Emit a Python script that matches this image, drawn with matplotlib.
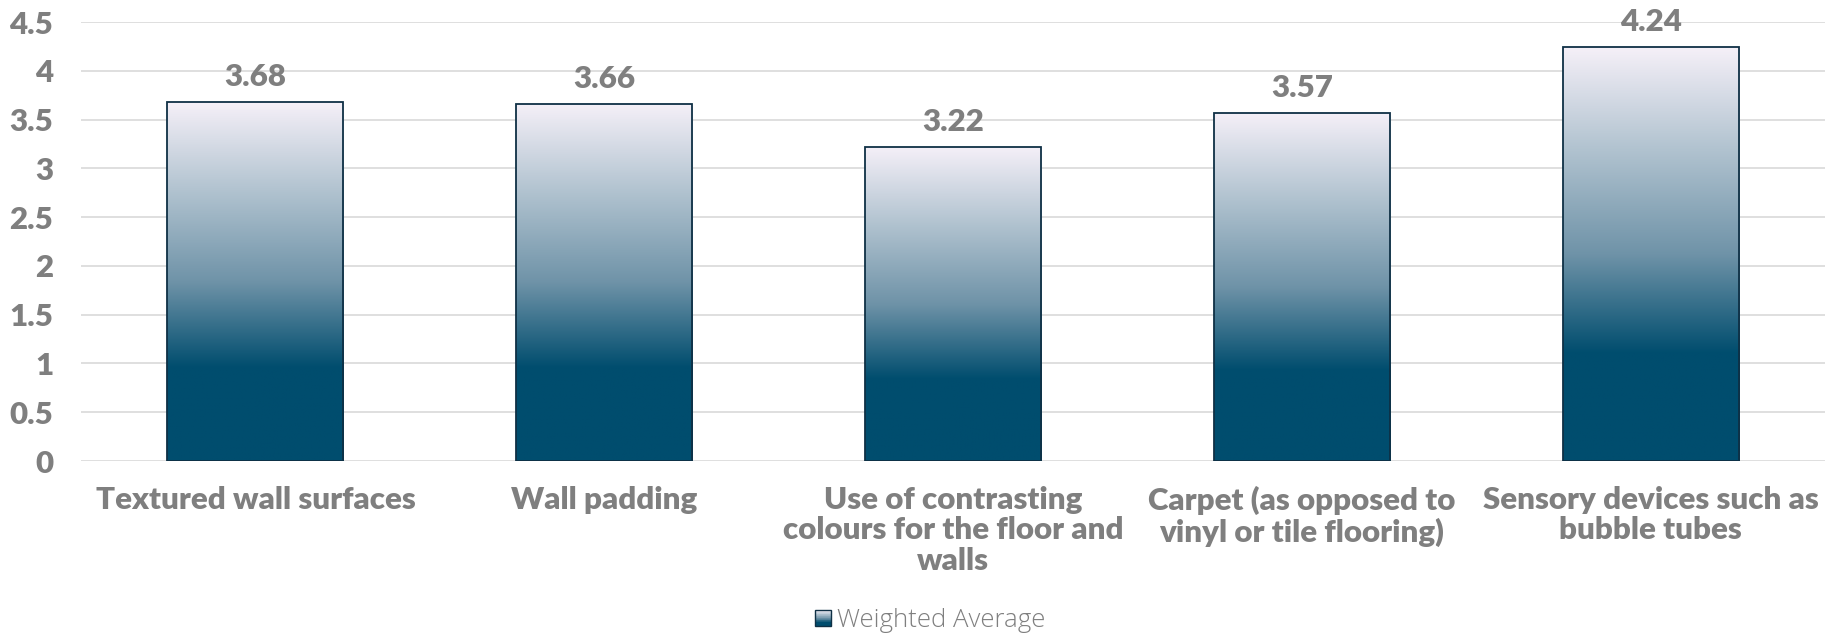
import numpy as np
import matplotlib
matplotlib.use("Agg")
import matplotlib.pyplot as plt
from matplotlib.colors import LinearSegmentedColormap
from matplotlib.patches import Rectangle
from matplotlib.legend_handler import HandlerBase

categories = [
    "Textured wall surfaces",
    "Wall padding",
    "Use of contrasting\ncolours for the floor and\nwalls",
    "Carpet (as opposed to\nvinyl or tile flooring)",
    "Sensory devices such as\nbubble tubes",
]
values = [3.68, 3.66, 3.22, 3.57, 4.24]
series_name = "Weighted Average"
y_ticks = [0, 0.5, 1, 1.5, 2, 2.5, 3, 3.5, 4, 4.5]

GRAY = "#7f7f7f"
EDGE = "#0f3045"
grad = LinearSegmentedColormap.from_list(
    "bar_grad",
    [(0.0, "#004d6e"), (0.26, "#004d6e"), (0.5, "#6f93a8"),
     (0.75, "#b0c2cf"), (1.0, "#f5f0f8")],
)

BOLD = dict(family=["Lato", "DejaVu Sans"], weight="heavy")
FS = 22.5

fig = plt.figure(figsize=(18.25, 6.33), dpi=100)
ax = fig.add_axes([0.0444, 0.2717, 0.9556, 0.6935])

x = np.arange(len(categories))
width = 0.505
bars = ax.bar(x, values, width=width, facecolor="none", edgecolor=EDGE,
              linewidth=1.3, zorder=3)

# vertical gradient fill for each bar, clipped to the bar outline
ramp = np.linspace(0, 1, 256).reshape(-1, 1)
for rect in bars:
    x0, w, h = rect.get_x(), rect.get_width(), rect.get_height()
    im = ax.imshow(ramp, cmap=grad, origin="lower", aspect="auto",
                   extent=(x0, x0 + w, 0, h), zorder=2, interpolation="bilinear")
    im.set_clip_path(rect)

for xi, v in zip(x, values):
    ax.annotate(f"{v:.2f}", (xi, v), xytext=(0, 18), textcoords="offset points",
                ha="center", va="center", color=GRAY, fontsize=FS, **BOLD)

ax.set_xlim(-0.5, len(categories) - 0.5)
ax.set_ylim(0, 4.5)
ax.set_yticks(y_ticks)
ax.set_yticklabels([f"{t:g}" for t in y_ticks])
ax.set_xticks(x)
ax.set_xticklabels(categories, linespacing=1.1)
for lbl in ax.get_xticklabels() + ax.get_yticklabels():
    lbl.set_color(GRAY)
    lbl.set_fontsize(FS)
    lbl.set_fontfamily(["Lato", "DejaVu Sans"])
    lbl.set_fontweight("heavy")
ax.tick_params(axis="y", length=0, pad=20)
ax.tick_params(axis="x", length=0, pad=18)
ax.grid(axis="y", color="#d9d9d9", linewidth=1.2, zorder=0)
ax.set_axisbelow(True)
for s in ax.spines.values():
    s.set_visible(False)


class GradientSwatch(HandlerBase):
    def create_artists(self, legend, orig_handle, xdescent, ydescent,
                       width, height, fontsize, trans):
        size = 11.5
        x0 = -xdescent + (width - size) / 2
        y0 = -ydescent + (height - size) / 2
        n = 24
        arts = []
        for i in range(n):
            arts.append(Rectangle((x0, y0 + size * i / n), size, size / n + 0.2,
                                  facecolor=grad((i + 0.5) / n), edgecolor="none",
                                  transform=trans))
        arts.append(Rectangle((x0, y0), size, size, facecolor="none",
                              edgecolor=EDGE, linewidth=1.0, transform=trans))
        return arts


handle = Rectangle((0, 0), 1, 1)
fig.legend([handle], [series_name], handler_map={Rectangle: GradientSwatch()},
           loc="center", bbox_to_anchor=(0.5096, 0.019), frameon=False,
           handlelength=0.65, handletextpad=0.25, borderpad=0,
           prop=dict(family=["Open Sans", "DejaVu Sans"], weight="light", size=18.5),
           labelcolor=GRAY)

fig.savefig("out.png", dpi=100)
